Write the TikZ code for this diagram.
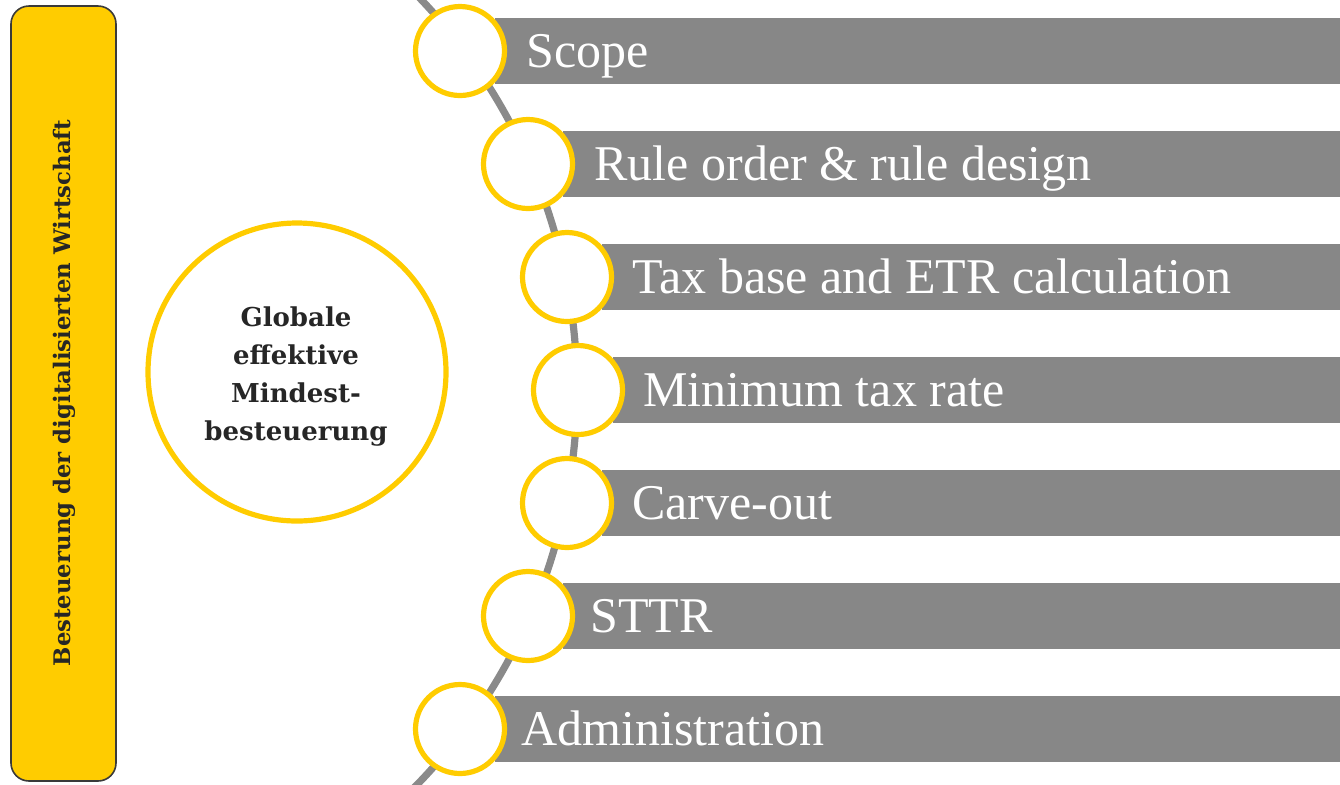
\documentclass[tikz,border=0pt]{standalone}
\usepackage{fontspec}
\setmainfont{Liberation Serif}
\newfontfamily\boldserif{DejaVu Serif}
\definecolor{gold}{HTML}{FFCC00}
\definecolor{bargray}{HTML}{878787}
\definecolor{arcgray}{HTML}{8A8A8A}
\definecolor{darktext}{HTML}{262626}
\definecolor{edge}{HTML}{3A3A3A}
\tikzset{
  sidebar/.style={draw=edge, line width=0.8pt, fill=gold, rounded corners=9pt,
    minimum width=52.5pt, minimum height=387.5pt, inner sep=0pt},
  sidetext/.style={rotate=90, font=\boldserif\bfseries\fontsize{11.4}{13}\selectfont, text=darktext},
  bigcircle/.style={circle, draw=gold, line width=2.6pt, fill=white,
    minimum size=149pt, inner sep=0pt},
  circletext/.style={align=center, inner sep=0pt,
    font=\boldserif\bfseries\fontsize{13}{19}\selectfont, text=darktext},
  arcline/.style={draw=arcgray, line width=3.6pt},
  bar/.style={fill=bargray, anchor=west, minimum height=33pt, inner sep=0pt},
  ring/.style={circle, draw=gold, line width=2.6pt, fill=white, minimum size=44.5pt, inner sep=0pt},
  barlabel/.style={anchor=base west, text=white, font=\fontsize{25}{30}\selectfont, inner sep=0pt}
}
\begin{document}
\begin{tikzpicture}[x=0.5pt,y=-0.5pt]
\useasboundingbox (0,0) rectangle (1340,784);
\node[sidebar] (side) at (63.5,393.5) {};
\node[sidetext] (sidelabel) at (64,393) {Besteuerung der digitalisierten Wirtschaft};
\node[bigcircle] (main) at (297,372) {};
\node[circletext] (maintext) at (296,376) {Globale\\effektive\\Mindest-\\besteuerung};
\coordinate (arccenter) at (10,390);
\draw[arcline] (arccenter) ++(-48:567) arc[start angle=-48, end angle=48, radius=567];
% bars
\node[bar, minimum width=423pt] (b1) at (495,51) {};
\node[bar, minimum width=389pt] (b2) at (563,164) {};
\node[bar, minimum width=369.5pt] (b3) at (602,277) {};
\node[bar, minimum width=364pt] (b4) at (613,390) {};
\node[bar, minimum width=369.5pt] (b5) at (602,503) {};
\node[bar, minimum width=389pt] (b6) at (563,616) {};
\node[bar, minimum width=423pt] (b7) at (495,729) {};
% rings
\node[ring] (r1) at (460,51) {};
\node[ring] (r2) at (528,164) {};
\node[ring] (r3) at (567,277) {};
\node[ring] (r4) at (578,390) {};
\node[ring] (r5) at (567,503) {};
\node[ring] (r6) at (528,616) {};
\node[ring] (r7) at (460,729) {};
% labels
\node[barlabel] (l1) at (526,67) {Scope};
\node[barlabel] (l2) at (594,180) {Rule order \& rule design};
\node[barlabel] (l3) at (632,293) {Tax base and ETR calculation};
\node[barlabel] (l4) at (643,406) {Minimum tax rate};
\node[barlabel] (l5) at (632,519) {Carve-out};
\node[barlabel] (l6) at (590,632) {STTR};
\node[barlabel] (l7) at (521,745) {Administration};
\end{tikzpicture}
\end{document}
